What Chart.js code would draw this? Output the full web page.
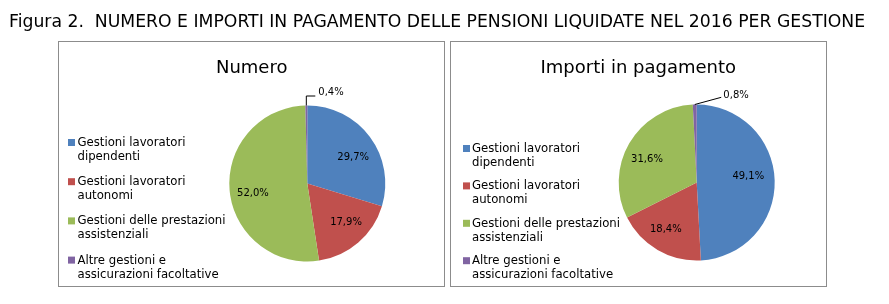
<!DOCTYPE html>
<html>
<head>
<meta charset="utf-8">
<script src="https://cdn.jsdelivr.net/npm/chart.js@4.4.0/dist/chart.umd.min.js"></script>
<style>
  html, body { margin: 0; padding: 0; background: #fff; }
  #wrap { position: relative; width: 889px; height: 304px; overflow: hidden; background: #fff; }
  .panel { position: absolute; border: 1px solid #8c8c8c; box-sizing: border-box; background: #fff; }
  canvas { position: absolute; left: 0; top: 0; }
</style>
</head>
<body>
<div id="wrap">
  <div class="panel" style="left:58px;top:41px;width:387px;height:246px"></div>
  <div class="panel" style="left:450px;top:41px;width:377px;height:246px"></div>
  <canvas id="c1" width="889" height="304" style="width:889px;height:304px"></canvas>
  <canvas id="c2" width="889" height="304" style="width:889px;height:304px"></canvas>
</div>
<script>
// ---------- DATA ----------
const figureTitle = 'Figura 2.  NUMERO E IMPORTI IN PAGAMENTO DELLE PENSIONI LIQUIDATE NEL 2016 PER GESTIONE';
const panelTitles = ['Numero', 'Importi in pagamento'];
const categories = [
  ['Gestioni lavoratori', 'dipendenti'],
  ['Gestioni lavoratori', 'autonomi'],
  ['Gestioni delle prestazioni', 'assistenziali'],
  ['Altre gestioni e', 'assicurazioni facoltative']
];
const numeroValues = [29.7, 17.9, 52.0, 0.4];
const importiValues = [49.1, 18.4, 31.6, 0.8];

// ---------- STYLE ----------
const colors = ['#4F81BD', '#C0504D', '#9BBB59', '#8064A2'];
const W = 889, H = 304;
const LEGEND_FONT = '13px "DejaVu Sans Condensed", "DejaVu Sans", sans-serif';
const LABEL_FONT = '10px "DejaVu Sans", sans-serif';
const PTITLE_FONT_SIZE = 18;

const cfg1 = {
  cx: 307.3, cy: 183.5, r: 78,
  title: panelTitles[0], titleX: 251.7, titleBase: 72.7,
  legX: 68, legTextX: 77.5, legY: 146, legStep: 39.2, legLine: 14,
  labelR: 0.7,
  nudge: [[2, 6], [3, -2], [0, 5.5], [0, 0]],
  leader: [[0, -9.5], [9, -9.5]], leaderText: [12, -12.8],
  drawFigureTitle: true
};
const cfg2 = {
  cx: 696.7, cy: 182.5, r: 78,
  title: panelTitles[1], titleX: 638.3, titleBase: 73.3,
  legX: 463, legTextX: 472, legY: 152, legStep: 37.4, legLine: 14,
  labelR: 0.7,
  nudge: [[-3, -5], [-3.5, 0], [-2.5, 4], [0, 0]],
  leader: [[26.5, -7.2]], leaderText: [28.6, -9.5],
  drawFigureTitle: false
};

function fmt(v) { return v.toFixed(1).replace('.', ',') + '%'; }

function decorPlugin(cfg, values) {
  return {
    id: 'decor',
    afterDraw(chart) {
      const ctx = chart.ctx;
      ctx.save();
      // figure title
      if (cfg.drawFigureTitle) {
        let size = 13.7;
        ctx.font = size + 'px "DejaVu Sans", sans-serif';
        const w = ctx.measureText(figureTitle).width;
        size = size * 856 / w;
        ctx.font = size + 'px "DejaVu Sans", sans-serif';
        ctx.fillStyle = '#000';
        ctx.textAlign = 'left';
        ctx.textBaseline = 'alphabetic';
        ctx.fillText(figureTitle, 9, 26.7);
      }
      // panel title
      ctx.font = PTITLE_FONT_SIZE + 'px "DejaVu Sans", sans-serif';
      ctx.fillStyle = '#000';
      ctx.textAlign = 'center';
      ctx.textBaseline = 'alphabetic';
      ctx.fillText(cfg.title, cfg.titleX, cfg.titleBase);
      // legend
      ctx.font = LEGEND_FONT;
      try { ctx.fontStretch = 'condensed'; } catch (e) {}
      ctx.textAlign = 'left';
      categories.forEach((lines, i) => {
        const b = cfg.legY + i * cfg.legStep;
        ctx.fillStyle = colors[i];
        ctx.fillRect(cfg.legX, b - 7, 7, 7);
        ctx.fillStyle = '#000';
        lines.forEach((ln, j) => ctx.fillText(ln, cfg.legTextX, b + j * cfg.legLine));
      });
      try { ctx.fontStretch = 'normal'; } catch (e) {}
      // data labels
      const meta = chart.getDatasetMeta(0);
      ctx.font = LABEL_FONT;
      ctx.fillStyle = '#000';
      meta.data.forEach((arc, i) => {
        const p = arc.getProps(['x', 'y', 'startAngle', 'endAngle', 'outerRadius'], true);
        const mid = (p.startAngle + p.endAngle) / 2;
        const txt = fmt(values[i]);
        if (values[i] >= 2) {
          const rr = p.outerRadius * cfg.labelR;
          ctx.textAlign = 'center';
          ctx.textBaseline = 'middle';
          ctx.fillText(txt, p.x + Math.cos(mid) * rr + cfg.nudge[i][0], p.y + Math.sin(mid) * rr + cfg.nudge[i][1]);
        } else {
          const ex = p.x + Math.cos(mid) * p.outerRadius;
          const ey = p.y + Math.sin(mid) * p.outerRadius;
          ctx.beginPath();
          ctx.moveTo(ex, ey);
          cfg.leader.forEach(([dx, dy]) => ctx.lineTo(ex + dx, ey + dy));
          ctx.strokeStyle = '#000';
          ctx.lineWidth = 1;
          ctx.stroke();
          ctx.textAlign = 'left';
          ctx.textBaseline = 'middle';
          ctx.fillText(txt, ex + cfg.leaderText[0], ey + cfg.leaderText[1]);
        }
      });
      ctx.restore();
    }
  };
}

function makeChart(id, values, cfg) {
  const half = 92;
  return new Chart(document.getElementById(id), {
    type: 'pie',
    data: {
      labels: categories,
      datasets: [{
        data: values,
        backgroundColor: colors,
        borderWidth: 0,
        radius: cfg.r
      }]
    },
    options: {
      responsive: false,
      maintainAspectRatio: false,
      animation: false,
      events: [],
      layout: {
        padding: {
          left: cfg.cx - half,
          right: W - (cfg.cx + half),
          top: cfg.cy - half,
          bottom: H - (cfg.cy + half)
        }
      },
      plugins: {
        legend: { display: false },
        tooltip: { enabled: false },
        title: { display: false }
      }
    },
    plugins: [decorPlugin(cfg, values)]
  });
}

makeChart('c1', numeroValues, cfg1);
makeChart('c2', importiValues, cfg2);
</script>
</body>
</html>
